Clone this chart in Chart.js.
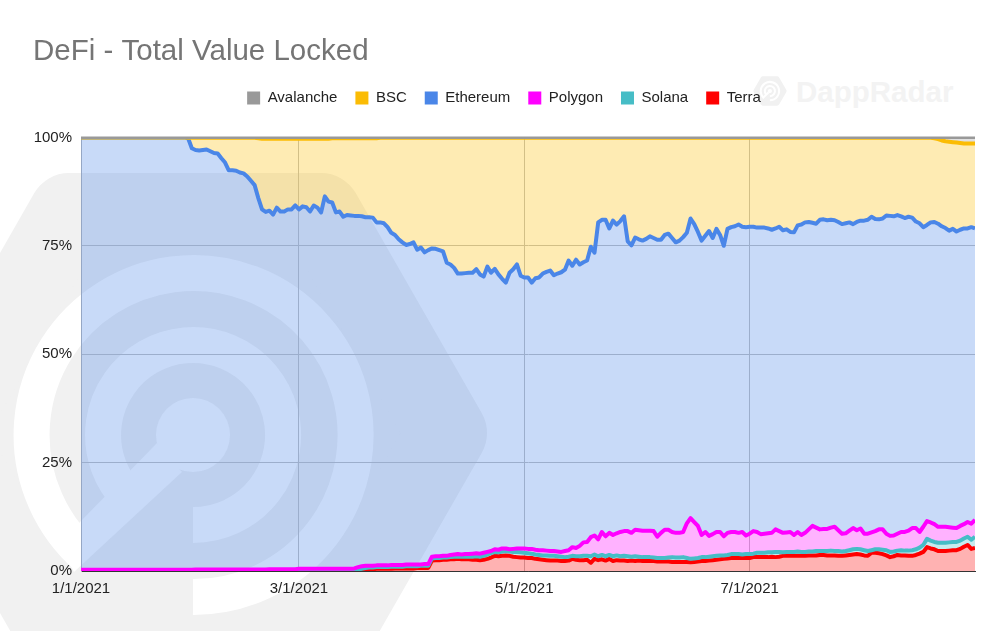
<!DOCTYPE html>
<html>
<head>
<meta charset="utf-8">
<title>DeFi - Total Value Locked</title>
<script src="https://cdn.jsdelivr.net/npm/chart.js@4"></script>
<style>
    html, body { margin: 0; padding: 0; background: #fff; }
    #wrap { position: relative; width: 1008px; height: 631px; overflow: hidden; }
    #wrap svg, #wrap canvas { position: absolute; left: 0; top: 0; }
</style>
</head>
<body>
<div id="wrap">
    <!-- watermark sits behind the transparent canvas -->
    <svg width="1008" height="631" viewBox="0 0 1008 631">
        <defs>
            <g id="logo">
                <polygon points="447,433 321,213 69,213 -57,433 69,653 321,653" fill="#f1f1f1" stroke="#f1f1f1" stroke-width="80" stroke-linejoin="round"/>
                <path d="M193 597 A162 162 0 1 0 87 557" fill="none" stroke="#fff" stroke-width="36"/>
                <path d="M193 525 A90 90 0 1 0 129.4 498.6" fill="none" stroke="#fff" stroke-width="36"/>
                <circle cx="193" cy="435" r="37" fill="#fff"/>
                <polygon points="157,443 182,472 74,572 62,548 80,522" fill="#fff"/>
            </g>
        </defs>
        <use href="#logo"/>
        <use href="#logo" transform="translate(770,91) scale(0.0567) translate(-195,-433)"/>
        <text x="796" y="102" font-family="Liberation Sans" font-weight="bold" font-size="29.5" fill="#f3f3f3">DappRadar</text>
    </svg>
    <canvas id="tvlChart" width="1008" height="631"></canvas>
</div>
<script>
'use strict';

// daily dates, 1/1/2021 - 8/31/2021
var monthDays = [31, 28, 31, 30, 31, 30, 31, 31];
var labels = [];
for (var m = 0; m < monthDays.length; m++) {
    for (var d = 1; d <= monthDays[m]; d++) {
        labels.push((m + 1) + '/' + d + '/2021');
    }
}

// levels (top edge of each band, in %)
var avalanche = [
    100,100,100,100,100,100,100,100,100,100, 100,100,100,100,100,100,100,100,100,100,
    100,100,100,100,100,100,100,100,100,100, 100,100,100,100,100,100,100,100,100,100,
    100,100,100,100,100,100,100,100,100,100, 100,100,100,100,100,100,100,100,100,100,
    100,100,100,100,100,100,100,100,100,100, 100,100,100,100,100,100,100,100,100,100,
    100,100,100,100,100,100,100,100,100,100, 100,100,100,100,100,100,100,100,100,100,
    100,100,100,100,100,100,100,100,100,100, 100,100,100,100,100,100,100,100,100,100,
    100,100,100,100,100,100,100,100,100,100, 100,100,100,100,100,100,100,100,100,100,
    100,100,100,100,100,100,100,100,100,100, 100,100,100,100,100,100,100,100,100,100,
    100,100,100,100,100,100,100,100,100,100, 100,100,100,100,100,100,100,100,100,100,
    100,100,100,100,100,100,100,100,100,100, 100,100,100,100,100,100,100,100,100,100,
    100,100,100,100,100,100,100,100,100,100, 100,100,100,100,100,100,100,100,100,100,
    100,100,100,100,100,100,100,100,100,100, 100,100,100,100,100,100,100,100,100,100,
    100,100,100
];
var bsc = [
    100,100,100,100,100,100,100,100,100,100, 100,100,100,100,100,100,100,100,100,100,
    100,100,100,100,100,100,100,100,100,99.9, 99.9,99.9,99.9,99.9,99.9,99.9,99.9,99.9,99.9,99.9,
    99.9,99.9,99.9,99.9,99.9,99.9,99.9,99.9,99.8,99.7, 99.7,99.7,99.7,99.7,99.7,99.7,99.7,99.7,99.7,99.7,
    99.7,99.7,99.7,99.7,99.7,99.7,99.7,99.7,99.8,99.8, 99.8,99.8,99.8,99.8,99.8,99.8,99.8,99.8,99.8,99.8,
    99.8,99.9,99.9,99.9,99.9,99.9,99.9,99.9,99.9,99.9, 99.9,99.9,99.9,99.9,99.9,99.9,99.9,99.9,99.9,99.9,
    99.9,99.9,99.9,99.9,99.9,99.9,99.9,99.9,99.9,99.9, 99.9,99.9,99.9,99.9,99.9,99.9,99.9,99.9,99.9,99.9,
    99.9,99.9,99.9,99.9,99.9,99.9,99.9,99.9,99.9,99.9, 99.9,99.9,99.9,99.9,99.9,99.9,99.9,99.9,99.9,99.9,
    99.9,99.9,99.9,99.9,99.9,99.9,99.9,99.9,99.9,99.9, 99.9,99.9,99.9,99.9,99.9,99.9,99.9,99.9,99.9,99.9,
    99.9,99.9,99.9,99.9,99.9,99.9,99.9,99.9,99.9,99.9, 99.9,99.9,99.9,99.9,99.9,99.9,99.9,99.9,99.9,99.9,
    99.9,99.9,99.9,99.9,99.9,99.9,99.9,99.9,99.9,99.9, 99.9,99.9,99.9,99.9,99.9,99.9,99.9,99.9,99.9,99.9,
    99.9,99.9,99.9,99.9,99.9,99.9,99.9,99.9,99.9,99.9, 99.9,99.9,99.9,99.9,99.9,99.9,99.9,99.9,99.9,99.9,
    99.9,99.9,99.9,99.9,99.9,99.9,99.9,99.9,99.9,99.9, 99.9,99.8,99.6,99.3,99.1,99,98.9,98.8,98.7,98.6,
    98.6,98.6,98.6
];
var ethereum = [
    100,100,100,100,100,100,100,100,100,100,
    100,100,100,100,100,100,100,100,100,100,
    100,100,100,100,100,100,100,100,100,99.8,
    97.5,97.1,97,97.1,97.2,96.8,96.4,96.3,95.2,94.2,
    92.4,92.4,92.3,91.9,91.7,91,90,89,86,83.4,
    82.8,83.1,82.2,83.8,82.9,82.9,83.4,83.4,84.3,83.4,
    84.1,83.9,82.9,84.3,83.8,82.7,86.4,85.2,85,82.7,
    82.9,81.7,82.1,82,81.9,81.9,81.8,81.6,81.6,81.5,
    80.4,80.4,80.2,79.3,78,77.5,76.5,75.8,75.2,75.4,
    75.8,74.1,74.6,73.5,74,74.4,74.3,74,73.7,71.1,
    70.7,69.9,68.6,68.6,68.7,68.8,68.8,69.6,68.4,67.9,
    70.2,68.8,69.7,68.4,67.4,66.5,68.8,69.6,70.7,68.1,
    67.7,67.7,66.5,67.5,67.7,68.6,69,69.3,68.2,68.6,
    68.9,69.5,71.6,70.4,71.8,70.7,71.2,71.6,74.8,73.4,
    80.4,81,81,79,80.8,79.9,80.7,81.8,76,75.1,
    76.9,76.5,76.2,76.6,77.2,76.8,76.4,76.4,77.5,77.8,
    76.8,75.8,76.2,77,78,81.3,80,78.2,76.2,77.3,
    78.4,76.8,78.9,77.5,75,78.9,79.3,79.5,79.9,79.4,
    79.3,79.4,79.4,79.2,79.2,79.2,79,78.7,79,79.4,
    78.6,78.8,78.2,78.1,79.7,79.9,80.4,80.5,80.3,80.1,
    81,81.1,80.9,81,80.9,80.5,80,80.2,80.4,80,
    80.5,80.8,80.8,81,81.7,81.2,81.1,81.3,82,81.9,
    81.8,82.1,81.8,81.4,81.7,81.5,80.6,80.2,79.3,79.8,
    80.4,80.5,80.1,79.5,79.1,78.5,78.9,78.3,78.7,79,
    79,79.3,79
];
var polygon = [
    0.3,0.3,0.3,0.3,0.3,0.3,0.3,0.3,0.3,0.3,
    0.3,0.3,0.3,0.3,0.3,0.3,0.3,0.3,0.3,0.3,
    0.3,0.3,0.3,0.3,0.3,0.3,0.3,0.3,0.3,0.3,
    0.3,0.35,0.35,0.35,0.35,0.35,0.35,0.35,0.35,0.35,
    0.35,0.35,0.35,0.35,0.35,0.35,0.35,0.35,0.35,0.35,
    0.35,0.4,0.4,0.4,0.4,0.4,0.4,0.4,0.4,0.5,
    0.5,0.5,0.5,0.5,0.5,0.5,0.5,0.5,0.5,0.5,
    0.5,0.5,0.5,0.5,0.6,0.9,1.1,1.2,1.2,1.2,
    1.3,1.3,1.3,1.3,1.4,1.4,1.4,1.4,1.5,1.5,
    1.5,1.5,1.5,1.6,1.6,3.3,3.4,3.4,3.5,3.5,
    3.7,3.8,3.9,3.8,3.9,3.9,4,4.1,4,4.2,
    4.4,4.6,5,4.9,5.2,5.2,5,5.1,5.2,5.2,
    5.2,5.1,5.1,4.9,4.8,4.8,4.7,4.6,4.6,4.5,
    4.4,4.6,4.8,5.5,5.3,5.8,6.6,6.7,7.8,8.2,
    7.3,9,8,8.8,8.3,8.7,9,9.2,9.2,8.8,
    9.5,9.4,9.3,9.3,9.3,9.2,7.9,8.8,9.5,9.5,
    9,8.8,8.8,9,11,12.2,11.3,10.4,8.3,9,
    8.1,8.5,9,9,8,8.8,9,9,8.8,9,
    8.2,8.6,9.2,9,8.5,8.6,8.7,8.8,9.6,9.2,
    8.8,8.9,9,8.3,9,8.3,8.8,9.6,10.4,10,
    9.6,9.7,9.7,10,10.2,9.4,8.6,8.7,9.3,9.9,
    9.4,9.8,8.6,8.6,8.9,9.2,9.6,9.6,8.6,8.1,
    8.2,8.6,9,9,9.3,9.9,9.9,9,10.2,11.5,
    11.2,10.8,10.2,10.2,10.2,10.1,10,9.9,10.4,10.8,
    11.3,10.9,11.8
];
var solana = [
    0.1,0.1,0.1,0.1,0.1,0.1,0.1,0.1,0.1,0.1,
    0.1,0.1,0.1,0.1,0.1,0.1,0.1,0.1,0.1,0.1,
    0.1,0.1,0.1,0.1,0.1,0.1,0.1,0.1,0.1,0.1,
    0.1,0.1,0.1,0.1,0.1,0.1,0.1,0.1,0.1,0.1,
    0.1,0.1,0.1,0.1,0.1,0.1,0.1,0.1,0.1,0.1,
    0.1,0.1,0.1,0.1,0.1,0.1,0.1,0.1,0.1,0.1,
    0.1,0.1,0.1,0.1,0.1,0.1,0.1,0.1,0.1,0.1,
    0.1,0.1,0.1,0.1,0.2,0.3,0.5,0.7,0.8,0.8,
    0.9,0.9,0.9,0.9,1,1,1,1,1.1,1.1,
    1.1,1.1,1.2,1.2,1.2,2.9,3,3,3.1,3.1,
    3.2,3.3,3.3,3.3,3.3,3.3,3.3,3.4,3.3,3.5,
    3.8,4.1,4.4,4.3,4.5,4.6,4.5,4.4,4.4,4.3,
    4.2,4.1,4,3.8,3.7,3.6,3.6,3.5,3.5,3.4,
    3.3,3.2,3.3,3.5,3.4,3.4,3.5,3.5,3.4,3.8,
    3.4,3.7,3.4,3.7,3.4,3.6,3.4,3.5,3.4,3.3,
    3.4,3.3,3.2,3.2,3.2,3.1,3,3,3,3.1,
    3.2,3.1,3.1,3.2,3,2.8,2.9,3,3.2,3.2,
    3.3,3.4,3.5,3.6,3.6,3.7,3.9,3.9,3.9,3.8,
    3.9,3.9,4,4.2,4.2,4.2,4.3,4.3,4.4,4.4,
    4.3,4.4,4.4,4.4,4.5,4.4,4.4,4.5,4.5,4.6,
    4.6,4.6,4.6,4.7,4.6,4.6,4.5,4.6,4.8,5,
    5.1,5,4.8,4.6,4.8,5,5,4.9,4.8,4.4,
    4.5,4.7,4.8,4.7,4.7,4.8,5,5.4,6,7.4,
    7,6.7,6.5,6.5,6.5,6.6,6.7,6.7,7,7.5,
    7.9,7.2,7.9
];
var terra = [
    0,0,0,0,0,0,0,0,0,0, 0,0,0,0,0,0,0,0,0,0,
    0,0,0,0,0,0,0,0,0,0, 0,0,0,0,0,0,0,0,0,0,
    0,0,0,0,0,0,0,0,0,0, 0,0,0,0,0,0,0,0,0,0,
    0,0,0,0,0,0,0,0,0,0,
    0,0,0,0,0,0.1,0.2,0.3,0.4,0.4,
    0.5,0.5,0.5,0.5,0.5,0.6,0.6,0.6,0.6,0.6,
    0.6,0.7,0.7,0.7,0.7,2.4,2.5,2.5,2.6,2.6,
    2.7,2.7,2.8,2.7,2.7,2.7,2.6,2.6,2.5,2.6,
    2.8,3.1,3.5,3.4,3.5,3.6,3.5,3.3,3.2,3.1,
    3.1,3,3,2.8,2.7,2.6,2.5,2.4,2.4,2.4,
    2.3,2.3,2.4,2.8,2.6,2.5,2.5,2.6,1.9,2.8,
    2.5,2.7,2.4,2.8,2.3,2.5,2.4,2.4,2.3,2.4,
    2.3,2.4,2.3,2.3,2.3,2.3,2.2,2.2,2.2,2.2,
    2.1,2.1,2.1,2.1,2.1,2,2.1,2.2,2.3,2.3,
    2.4,2.5,2.6,2.7,2.8,2.9,3,3,3,3,
    3,3,3.2,3.2,3.2,3.2,3.2,3.3,3.2,3.3,
    3.5,3.5,3.5,3.5,3.5,3.5,3.5,3.6,3.6,3.6,
    3.7,3.7,3.6,3.6,3.6,3.5,3.5,3.6,3.7,3.8,
    3.9,3.8,3.6,3.5,4.2,4.2,4.1,3.9,3.6,3.2,
    3.4,3.7,3.6,3.6,3.5,3.5,3.7,4,4.4,5.5,
    5.2,5,4.6,4.6,4.6,4.7,4.8,4.8,5.1,5.6,
    6,5.1,5.3
];

function band(name, color, fillColor, values, fill, width, clip) {
    return {
        label: name,
        data: values,
        borderColor: color,
        backgroundColor: fillColor,
        borderWidth: width,
        borderJoinStyle: 'round',
        fill: fill,
        pointRadius: 0,
        tension: 0,
        clip: clip
    };
}

var noClip = { left: 0, right: 0, top: 0, bottom: 0 };
var datasets = [
    band('Avalanche', '#999999', 'rgba(153,153,153,0.3)', avalanche, '+1', 3.4, { left: 0, right: 0, top: 1, bottom: 0 }),
    band('BSC', '#fbbc04', 'rgba(251,188,4,0.3)', bsc, '+1', 4, noClip),
    band('Ethereum', '#4a86e8', 'rgba(74,134,232,0.3)', ethereum, '+1', 4, noClip),
    band('Polygon', '#ff00ff', 'rgba(255,0,255,0.3)', polygon, '+1', 4, noClip),
    band('Solana', '#46bdc6', 'rgba(70,189,198,0.3)', solana, '+1', 4, noClip),
    band('Terra', '#ff0000', 'rgba(255,0,0,0.3)', terra, 'origin', 4, noClip)
];

// extra room between legend and plot
var legendGap = {
    id: 'legendGap',
    beforeInit: function (chart) {
        var fit = chart.legend.fit;
        chart.legend.fit = function () {
            fit.call(chart.legend);
            this.height += 22;
        };
    }
};

var shownDates = ['1/1/2021', '3/1/2021', '5/1/2021', '7/1/2021'];
var font = { family: 'Liberation Sans', size: 15 };

var ctx = document.getElementById('tvlChart').getContext('2d');
var chart = new Chart(ctx, {
    type: 'line',
    data: { labels: labels, datasets: datasets },
    plugins: [legendGap],
    options: {
        responsive: false,
        animation: false,
        layout: { padding: { left: 33, right: 33, top: 0, bottom: 24 } },
        scales: {
            x: {
                type: 'category',
                border: { color: '#333333' },
                grid: { color: '#c0c0c0', drawTicks: false },
                afterBuildTicks: function (axis) {
                    axis.ticks = axis.ticks.filter(function (t) {
                        return shownDates.indexOf(labels[t.value]) >= 0;
                    });
                },
                ticks: { autoSkip: false, maxRotation: 0, padding: 9, color: '#222222', font: font }
            },
            y: {
                min: 0,
                max: 100,
                border: { color: '#b7b7b7' },
                grid: {
                    drawTicks: false,
                    color: function (c) { return c.tick.value === 0 ? '#333333' : '#c0c0c0'; }
                },
                afterFit: function (axis) { axis.width = 48; },
                ticks: {
                    stepSize: 25,
                    padding: 9,
                    color: '#222222',
                    font: font,
                    callback: function (v) { return v + '%'; }
                }
            }
        },
        plugins: {
            filler: { drawTime: 'beforeDatasetsDraw' },
            title: {
                display: true,
                text: 'DeFi - Total Value Locked',
                align: 'start',
                color: '#757575',
                font: { family: 'Liberation Sans', size: 29.5, weight: 'normal' },
                padding: { top: 34, bottom: 3 }
            },
            legend: {
                position: 'top',
                labels: {
                    boxWidth: 13,
                    boxHeight: 13,
                    padding: 18,
                    color: '#222222',
                    font: font,
                    generateLabels: function (c) {
                        return c.data.datasets.map(function (ds, i) {
                            return {
                                text: ds.label,
                                fillStyle: ds.borderColor,
                                strokeStyle: ds.borderColor,
                                lineWidth: 0,
                                fontColor: '#222222',
                                datasetIndex: i
                            };
                        });
                    }
                }
            },
            tooltip: { enabled: false }
        }
    }
});
</script>
</body>
</html>
